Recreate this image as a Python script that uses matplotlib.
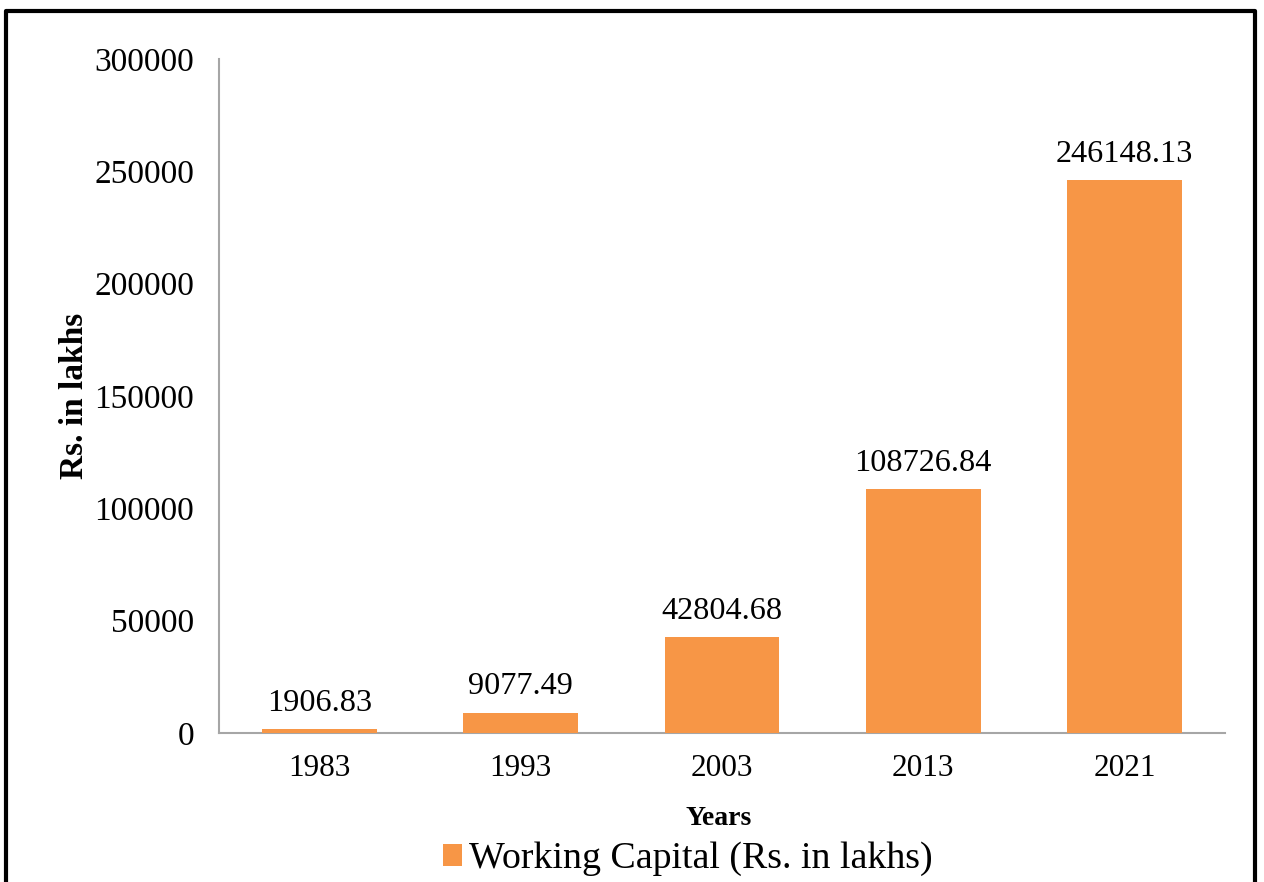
#!/usr/bin/env python3
"""Working capital (Rs. in lakhs) bar chart, 1983-2021."""
import matplotlib

matplotlib.use("Agg")
import matplotlib.pyplot as plt
from matplotlib.lines import Line2D

years = ["1983", "1993", "2003", "2013", "2021"]
working_capital = [1906.83, 9077.49, 42804.68, 108726.84, 246148.13]
value_labels = ["1906.83", "9077.49", "42804.68", "108726.84", "246148.13"]
series_name = "Working Capital (Rs. in lakhs)"

ORANGE = "#F79646"
AXIS = "#a6a6a6"

plt.rcParams.update({
    "font.family": ["Liberation Serif", "DejaVu Serif"],
    "text.color": "black", "xtick.color": "black", "ytick.color": "black",
})

W, H = 1264, 882
fig = plt.figure(figsize=(W / 100, H / 100), dpi=100)
ax = fig.add_axes([219 / W, 1 - 733 / H, (1225 - 219) / W, (733 - 59) / H])

x = range(len(years))
bars = ax.bar(x, working_capital, width=0.57, color=ORANGE, label=series_name, zorder=3)
for xi, v, lab in zip(x, working_capital, value_labels):
    ax.annotate(lab, (xi, v), xytext=(0, 8), textcoords="offset points",
                ha="center", va="bottom", fontsize=23.2)

ax.set_xlim(-0.5, len(years) - 0.5)
ax.set_ylim(0, 300000)
ax.set_yticks(range(0, 300001, 50000))
ax.set_yticklabels([str(t) for t in range(0, 300001, 50000)], fontsize=24)
ax.set_xticks(list(x))
ax.set_xticklabels(years, fontsize=22.5)
ax.tick_params(axis="y", length=0, pad=18)
ax.tick_params(axis="x", length=0, pad=15)

for s in ("top", "right"):
    ax.spines[s].set_visible(False)
for s in ("left", "bottom"):
    ax.spines[s].set_color(AXIS)
    ax.spines[s].set_linewidth(1.5)

ax.set_ylabel("Rs. in lakhs", fontsize=24, fontweight="bold")
ax.yaxis.set_label_coords(-0.128, 0.5)
ax.set_xlabel("Years", fontsize=20, fontweight="bold")
ax.xaxis.set_label_coords(0.497, -0.108)

fig.legend(handles=[bars], labels=[series_name], loc="center",
           bbox_to_anchor=(688 / W, 1 - 859 / H), frameon=False, fontsize=27.3,
           handlelength=0.5, handleheight=0.5, handletextpad=0.2)

# outer frame (bottom edge is cut off in the source)
fx = [6 / W, 6 / W, 1255 / W, 1255 / W]
fy = [0, 1 - 11 / H, 1 - 11 / H, 0]
fig.add_artist(Line2D(fx, fy, transform=fig.transFigure, color="black", linewidth=3.0))

fig.savefig("out.png", dpi=100)
